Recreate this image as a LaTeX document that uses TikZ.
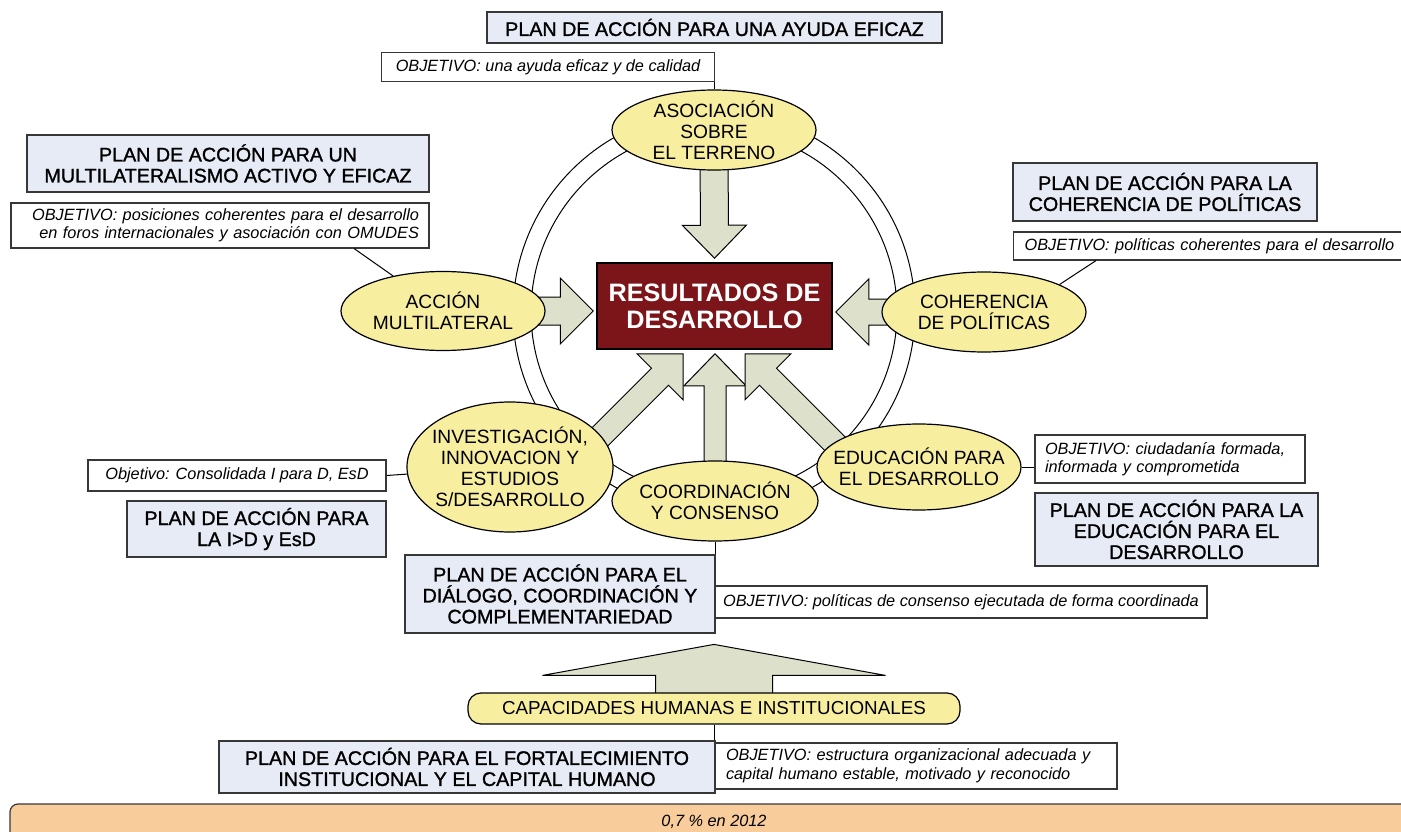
\documentclass[tikz,border=0pt]{standalone}
\usepackage{fontspec}
\setmainfont{Liberation Sans}
\newfontfamily\planfont{Liberation Sans}[FakeBold=1.3]
\usetikzlibrary{shapes.geometric,calc,backgrounds}
\definecolor{planfill}{RGB}{231,235,246}
\definecolor{bordergray}{RGB}{55,55,55}
\definecolor{ellfill}{RGB}{248,238,160}
\definecolor{arrfill}{RGB}{221,224,202}
\definecolor{resfill}{RGB}{123,21,25}
\definecolor{bandfill}{RGB}{249,204,156}
\newcommand{\blockarrow}[5]{%
  \coordinate (ba-b) at ($(#2)!#5!(#1)$);
  \filldraw[blockarr] ($(#1)!#3!90:(#2)$) -- ($(ba-b)!#3!-90:(#1)$) -- ($(ba-b)!#4!-90:(#1)$) -- (#2) -- ($(ba-b)!#4!90:(#1)$) -- ($(ba-b)!#3!90:(#1)$) -- ($(#1)!#3!-90:(#2)$) -- cycle;}
\begin{document}
\begin{tikzpicture}[x=1pt,y=-1pt,
  planbox/.style={draw=bordergray, line width=1.4pt, fill=planfill, align=center, inner sep=0pt, font=\planfont\fontsize{19.7}{21}\selectfont},
  objbox/.style={draw=bordergray, line width=1.2pt, fill=white, inner sep=0pt, font=\itshape\fontsize{16.3}{18.5}\selectfont},
  ell/.style={ellipse, draw=black, line width=1.2pt, fill=ellfill, align=center, inner xsep=-30pt, inner ysep=-14pt, font=\fontsize{19.2}{21}\selectfont},
  resbox/.style={draw=black, line width=1.5pt, fill=resfill, text=white, align=center, inner sep=0pt, font=\bfseries\fontsize{25.2}{27}\selectfont},
  capbox/.style={draw=black, line width=1.2pt, fill=ellfill, rounded corners=13pt, inner sep=0pt, font=\fontsize{18.8}{21}\selectfont},
  conn/.style={draw=black, line width=1pt},
  ring/.style={draw=black, line width=1pt},
  blockarr/.style={draw=black, line width=1pt, fill=arrfill, line join=miter},
  bandline/.style={draw=bordergray, line width=1.2pt, fill=bandfill}]
\useasboundingbox (0,0) rectangle (1401,832);

\node[planbox, minimum width=455pt, minimum height=31pt] (planT) at (714.5,27.5) {PLAN DE ACCIÓN PARA UNA AYUDA EFICAZ};
\node[objbox, minimum width=333pt, minimum height=29pt] (objT) at (548,67) {OBJETIVO: una ayuda eficaz y de calidad};
\node[ell, minimum width=204pt, minimum height=80pt] (asoc) at (714,130) {ASOCIACIÓN\\SOBRE\\EL TERRENO};
\node[resbox, minimum width=235pt, minimum height=86pt] (res) at (714.5,306) {RESULTADOS DE\\DESARROLLO};
\node[planbox, minimum width=402pt, minimum height=57pt] (planL) at (228,163.5) {PLAN DE ACCIÓN PARA UN\\MULTILATERALISMO ACTIVO Y EFICAZ};
\node[objbox, text width=398pt, align=right, inner xsep=10pt, minimum height=45pt] (objL) at (220,225.5) {OBJETIVO: posiciones coherentes para el desarrollo\\en foros internacionales y asociación con OMUDES};
\node[ell, minimum width=204pt, minimum height=79pt] (acc) at (443,311) {ACCIÓN\\MULTILATERAL};
\node[planbox, minimum width=304pt, minimum height=58pt] (planR) at (1165,192) {PLAN DE ACCIÓN PARA LA\\COHERENCIA DE POLÍTICAS};
\node[objbox, anchor=west, text width=387pt, align=left, inner xsep=11pt, minimum height=28pt] (objR) at (1013,246) {OBJETIVO: políticas coherentes para el desarrollo};
\node[ell, minimum width=204pt, minimum height=80pt] (coh) at (984,312) {COHERENCIA\\DE POLÍTICAS};
\node[ell, minimum width=206pt, minimum height=130pt] (inv) at (510,467) {INVESTIGACIÓN,\\INNOVACION Y\\ESTUDIOS\\S/DESARROLLO};
\node[objbox, minimum width=298pt, minimum height=31pt] (objI) at (237,475.5) {Objetivo: Consolidada I para D, EsD};
\node[planbox, minimum width=259pt, minimum height=56pt] (planI) at (256.5,529) {PLAN DE ACCIÓN PARA\\LA I>D y EsD};
\node[ell, minimum width=206pt, minimum height=80pt] (coord) at (715,501) {COORDINACIÓN\\Y CONSENSO};
\node[ell, minimum width=204pt, minimum height=86pt] (edu) at (919,467) {EDUCACIÓN PARA\\EL DESARROLLO};
\node[objbox, text width=250pt, align=left, inner xsep=10pt, minimum height=48pt] (objE) at (1170,459) {OBJETIVO: ciudadanía formada,\\informada y comprometida};
\node[planbox, minimum width=283pt, minimum height=73pt] (planE) at (1176.5,529.5) {PLAN DE ACCIÓN PARA LA\\EDUCACIÓN PARA EL\\DESARROLLO};
\node[planbox, minimum width=310pt, minimum height=78pt] (planD) at (560,594) {PLAN DE ACCIÓN PARA EL\\DIÁLOGO, COORDINACIÓN Y\\COMPLEMENTARIEDAD};
\node[objbox, minimum width=492pt, minimum height=32pt] (objD) at (961,602) {OBJETIVO: políticas de consenso ejecutada de forma coordinada};
\node[capbox, minimum width=492pt, minimum height=31pt] (cap) at (714,708.5) {CAPACIDADES HUMANAS E INSTITUCIONALES};
\node[planbox, minimum width=496pt, minimum height=52pt] (planF) at (467,767) {PLAN DE ACCIÓN PARA EL FORTALECIMIENTO\\INSTITUCIONAL Y EL CAPITAL HUMANO};
\node[objbox, text width=380pt, align=left, inner xsep=11pt, minimum height=46pt] (objF) at (916,766) {OBJETIVO: estructura organizacional adecuada y\\capital humano estable, motivado y reconocido};

\draw[bandline, rounded corners=8pt] (10,850) -- (10,804) -- (1420,804) -- (1420,850);
\node[font=\itshape\fontsize{16.3}{18}\selectfont] (band) at (714,822) {0,7 \% en 2012};

\draw[conn] (asoc.north |- objT.south) -- (asoc.north);
\draw[conn] ($(objL.south west)!0.82!(objL.south east)$) -- (acc);
\draw[conn] ($(objR.south west)+(83,0)$) -- (coh.20);
\draw[conn] (objI.east) -- (inv);
\draw[conn] (edu.east) -- (edu.east -| objE.west);
\draw[conn] (coord.south) -- (coord.south |- planD.north);
\draw[conn] (cap.south) -- (cap.south |- planF.north);

\begin{pgfonlayer}{background}
  \coordinate (ringc) at (714,312);
  \draw[ring] (ringc) circle[radius=201];
  \draw[ring] (ringc) circle[radius=183];
  \coordinate (tipT) at ($(res.north)+(0,-4)$);
  \blockarrow{asoc}{tipT}{14pt}{32pt}{33pt}
  \coordinate (tipA) at ($(res.west |- acc)+(-3,0)$);
  \blockarrow{acc}{tipA}{14pt}{33pt}{33pt}
  \coordinate (tipC) at ($(res.east |- coh)+(3,0)$);
  \blockarrow{coh}{tipC}{13pt}{33pt}{33pt}
  \coordinate (tipV) at ($(res.south)+(0.5,4)$);
  \blockarrow{coord}{tipV}{11pt}{31pt}{32pt}
  \coordinate (tipIL) at ($(res.south)+(-31.5,4)$);
  \coordinate (stIL) at ($(tipIL)+(-113,113)$);
  \blockarrow{stIL}{tipIL}{12pt}{32.5pt}{32.5pt}
  \coordinate (tipER) at ($(res.south)+(30.5,4)$);
  \coordinate (stER) at ($(tipER)+(113,113)$);
  \blockarrow{stER}{tipER}{12pt}{32.5pt}{32.5pt}
  \coordinate (bigtip) at ($(cap.north)+(0,-48)$);
  \blockarrow{cap}{bigtip}{58.5pt}{171.5pt}{31pt}
\end{pgfonlayer}
\end{tikzpicture}
\end{document}
